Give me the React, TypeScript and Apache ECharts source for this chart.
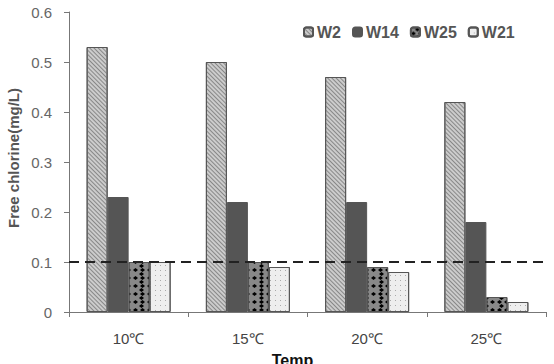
import React, { useEffect, useRef } from "react";
import * as echarts from "echarts";

const categories = ["10℃", "15℃", "20℃", "25℃"];
const w2 = [0.53, 0.5, 0.47, 0.42];
const w14 = [0.23, 0.22, 0.22, 0.18];
const w25 = [0.1, 0.1, 0.09, 0.03];
const w21 = [0.1, 0.09, 0.08, 0.02];
const yTicks = [0, 0.1, 0.2, 0.3, 0.4, 0.5, 0.6];
const threshold = 0.1;

export default function App() {
  const ref = useRef<HTMLDivElement>(null);
  useEffect(() => {
    const chart = echarts.init(ref.current!, null, { renderer: "svg" });
    const border = { borderColor: "#555", borderWidth: 1 };
    chart.setOption({
      animation: false,
      backgroundColor: "#fff",
      textStyle: { fontFamily: "Liberation Sans, Arial, sans-serif" },
      grid: { left: 69, right: 8, top: 12, bottom: 52, outerBoundsMode: "none", containLabel: false },
      legend: {
        left: 298,
        top: 19,
        itemWidth: 9,
        itemHeight: 9,
        itemGap: 11,
        textStyle: { fontSize: 16, color: "#555", fontWeight: "bold", padding: [0, 0, 0, -1] },
        data: ["W2", "W14", "W25", "W21"],
      },
      xAxis: {
        type: "category",
        data: categories,
        name: "Temp",
        nameLocation: "middle",
        nameGap: 40,
        nameMoveOverlap: false,
        nameTextStyle: { fontSize: 16, fontWeight: "bold", color: "#111", padding: [0, 30, 0, 0] },
        axisLine: { lineStyle: { color: "#777", width: 1 } },
        axisTick: { show: true, length: 5, inside: false, lineStyle: { color: "#777" } },
        axisLabel: { fontSize: 15, color: "#444", margin: 19 },
      },
      yAxis: {
        type: "value",
        min: 0,
        max: yTicks[yTicks.length - 1],
        interval: 0.1,
        name: "Free chlorine(mg/L)",
        nameLocation: "middle",
        nameGap: 48,
        nameMoveOverlap: false,
        nameTextStyle: { fontSize: 15, fontWeight: "bold", color: "#555", padding: [0, 0, 0, 8] },
        splitLine: { show: false },
        axisLine: { show: true, lineStyle: { color: "#777" } },
        axisTick: { show: true, length: 5, lineStyle: { color: "#777" } },
        axisLabel: {
          fontSize: 15,
          color: "#666",
          margin: 17,
          formatter: (v: number) => (v === 0 ? "0" : v.toFixed(1)),
        },
      },
      series: [
        {
          name: "W2",
          type: "bar",
          data: w2,
          barWidth: 21,
          barGap: "0%",
          itemStyle: {
            color: "#ccc",
            ...border,
            decal: {
              symbol: "rect",
              rotation: Math.PI / 4,
              dashArrayX: [1, 0],
              dashArrayY: [1, 1.5],
              color: "#888",
              backgroundColor: "#e8e8e8",
            },
          },
          markLine: {
            silent: true,
            symbol: "none",
            label: { show: false },
            lineStyle: { type: [10, 6], color: "#222", width: 2 },
            data: [{ yAxis: threshold }],
          },
        },
        {
          name: "W14",
          type: "bar",
          data: w14,
          barWidth: 21,
          barGap: "0%",
          itemStyle: { color: "#555", ...border },
        },
        {
          name: "W25",
          type: "bar",
          data: w25,
          barWidth: 21,
          barGap: "0%",
          itemStyle: {
            color: "#888",
            ...border,
            decal: {
              symbol: "diamond",
              symbolSize: 1,
              dashArrayX: [[5, 2], [0, 3.5, 5, 2 - 3.5 + 7]],
              dashArrayY: [4, 0],
              color: "#000",
              backgroundColor: "#fff",
            },
          },
        },
        {
          name: "W21",
          type: "bar",
          data: w21,
          barWidth: 21,
          barGap: "0%",
          itemStyle: {
            color: "#eee",
            ...border,
            decal: {
              symbol: "rect",
              symbolSize: 1,
              dashArrayX: [1, 4],
              dashArrayY: [1, 4],
              color: "#aaa",
              backgroundColor: "#fff",
            },
          },
        },
      ],
    });
    return () => chart.dispose();
  }, []);
  return <div ref={ref} style={{ position: "absolute", left: 0, top: 0, width: 554, height: 364 }} />;
}
